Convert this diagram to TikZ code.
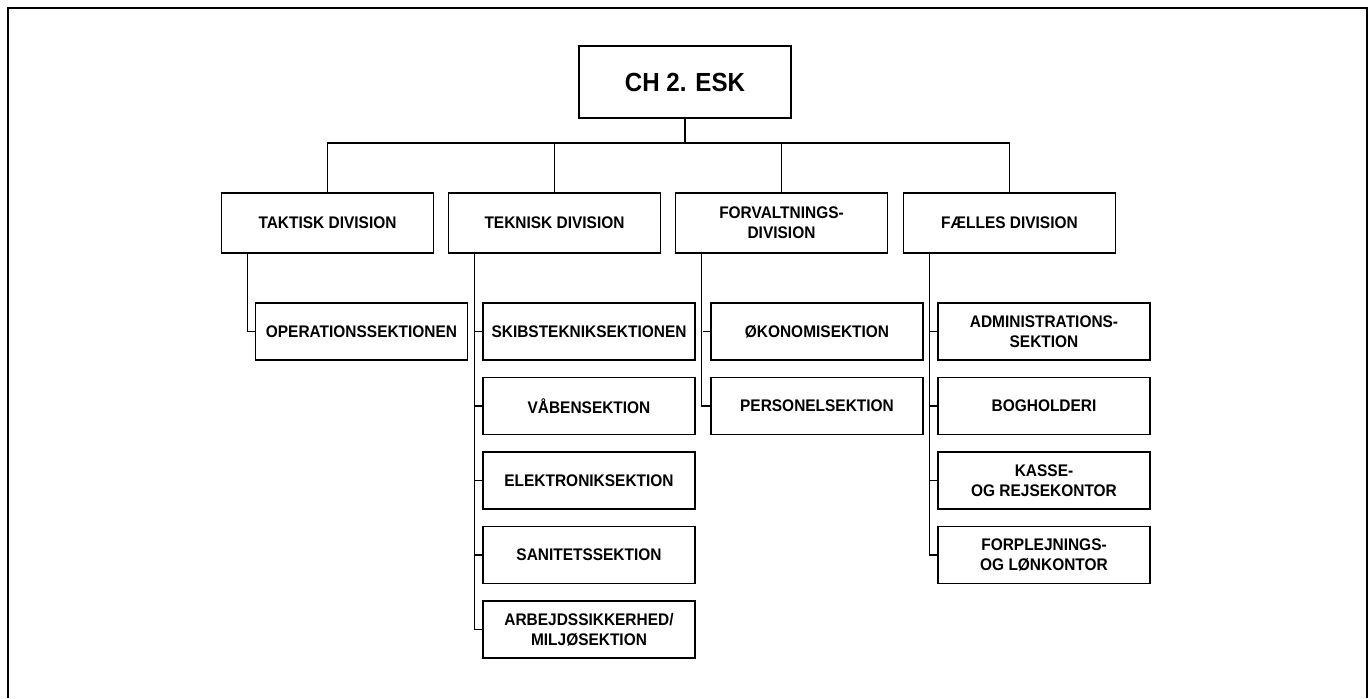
\documentclass[tikz,border=0pt]{standalone}
\usepackage{fontspec}
\setmainfont{Liberation Sans}[FakeStretch=0.92]
\begin{document}
\begin{tikzpicture}[x=0.5pt, y=-0.5pt,
  box/.style={draw, line width=0.8pt, align=center, inner sep=0pt, outer sep=0pt,
    minimum width=106pt, minimum height=28.5pt,
    font=\fontsize{8.4}{10}\selectfont\bfseries},
  divbox/.style={box, minimum height=30pt},
  link/.style={draw, line width=0.8pt}]
\useasboundingbox (0,0) rectangle (1370,698);
\path[draw,line width=0.9pt] (8,698) -- (8,8) -- (1367,8) -- (1367,698);

\node[box, minimum height=36pt, font=\fontsize{13.1}{15}\selectfont\bfseries] (ch) at (685,82) {CH 2. ESK};
\coordinate (bus) at (685,143);

\node[divbox] (tak) at (327.5,223) {TAKTISK DIVISION};
\node[divbox] (tek) at (554.5,223) {TEKNISK DIVISION};
\node[divbox] (forv) at (781.5,223) {FORVALTNINGS-\\DIVISION};
\node[divbox] (fael) at (1009.5,223) {FÆLLES DIVISION};

\node[box] (ops) at (361.5,331.5) {OPERATIONSSEKTIONEN};

\node[box] (skib) at (589,331.5) {SKIBSTEKNIKSEKTIONEN};
\node[box] (vaab) at (589,406) {VÅBENSEKTION};
\node[box] (elek) at (589,480.5) {ELEKTRONIKSEKTION};
\node[box] (san) at (589,555) {SANITETSSEKTION};
\node[box] (arb) at (589,629.5) {ARBEJDSSIKKERHED/\\MILJØSEKTION};

\node[box] (oek) at (817,331.5) {ØKONOMISEKTION};
\node[box] (pers) at (817,406) {PERSONELSEKTION};

\node[box] (adm) at (1044,331.5) {ADMINISTRATIONS-\\SEKTION};
\node[box] (bog) at (1044,406) {BOGHOLDERI};
\node[box] (kas) at (1044,480.5) {KASSE-\\OG REJSEKONTOR};
\node[box] (forp) at (1044,555) {FORPLEJNINGS-\\OG LØNKONTOR};

% top level
\path[link] (ch) -- (bus);
\path[link] (tak) |- (bus) -| (fael);
\path[link] (tek) -- (tek.north |- bus);
\path[link] (forv) -- (forv.north |- bus);

% taktisk
\path[link] ([xshift=13pt]tak.south west) |- (ops.west);

% teknisk
\path[link] ([xshift=13pt]tek.south west) |- (arb.west);
\path[link] (skib.west) -- ++(-8,0);
\path[link] (vaab.west) -- ++(-8,0);
\path[link] (elek.west) -- ++(-8,0);
\path[link] (san.west) -- ++(-8,0);

% forvaltning
\path[link] ([xshift=13pt]forv.south west) |- (pers.west);
\path[link] (oek.west) -- ++(-8,0);

% faelles
\path[link] ([xshift=13pt]fael.south west) |- (forp.west);
\path[link] (adm.west) -- ++(-8,0);
\path[link] (bog.west) -- ++(-8,0);
\path[link] (kas.west) -- ++(-8,0);
\end{tikzpicture}
\end{document}
